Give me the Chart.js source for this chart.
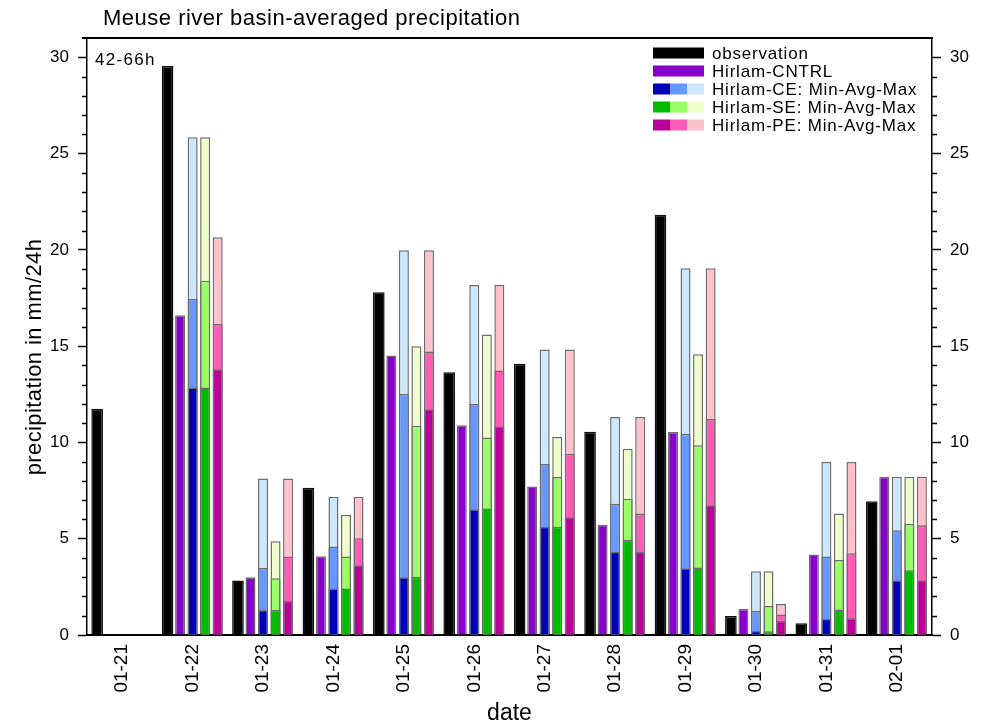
<!DOCTYPE html>
<html><head><meta charset="utf-8">
<script src="https://cdn.jsdelivr.net/npm/chart.js@4.4.1/dist/chart.umd.min.js"></script>
<style>html,body{margin:0;padding:0;background:#fff;}canvas{display:block;}</style>
</head><body>
<canvas id="c" width="984" height="727"></canvas>
<script>
// ---- data ----
const dates = ['01-21','01-22','01-23','01-24','01-25','01-26','01-27','01-28','01-29','01-30','01-31','02-01'];
const observation = [11.75, 29.55, 2.83, 7.64, 17.80, 13.64, 14.08, 10.56, 21.82, 0.99, 0.61, 6.95];
const cntrl = [null, 16.60, 3.00, 4.09, 14.51, 10.89, 7.71, 5.72, 10.54, 1.35, 4.18, 8.22];
const ceMin = [null, 12.85, 1.30, 2.41, 3.00, 6.53, 5.62, 4.32, 3.47, 0.22, 0.85, 2.84];
const ceAvg = [null, 17.45, 3.48, 4.59, 12.51, 12.00, 8.88, 6.81, 10.45, 1.25, 4.07, 5.44];
const ceMax = [null, 25.85, 8.13, 7.18, 19.98, 18.18, 14.82, 11.32, 19.05, 3.31, 8.98, 8.22];
const seMin = [null, 12.85, 1.30, 2.41, 3.03, 6.57, 5.62, 4.94, 3.50, 0.20, 1.32, 3.36];
const seAvg = [null, 18.40, 2.95, 4.07, 10.87, 10.26, 8.20, 7.07, 9.85, 1.51, 3.90, 5.77];
const seMax = [null, 25.85, 4.87, 6.24, 14.99, 15.60, 10.28, 9.67, 14.58, 3.31, 6.31, 8.22];
const peMin = [null, 13.80, 1.77, 3.62, 11.72, 10.83, 6.12, 4.32, 6.74, 0.73, 0.87, 2.84];
const peAvg = [null, 16.15, 4.07, 5.03, 14.72, 13.73, 9.41, 6.31, 11.22, 1.07, 4.25, 5.70];
const peMax = [null, 20.65, 8.13, 7.18, 19.98, 18.18, 14.82, 11.32, 19.05, 1.61, 8.98, 8.22];
const yMajorTicks = [0, 5, 10, 15, 20, 25, 30];
const legendLabels = ['observation', 'Hirlam-CNTRL', 'Hirlam-CE: Min-Avg-Max', 'Hirlam-SE: Min-Avg-Max', 'Hirlam-PE: Min-Avg-Max'];
const titleText = 'Meuse river basin-averaged precipitation';
const leadText = '42-66h';
const yTitle = 'precipitation in mm/24h';
const xTitle = 'date';

// ---- styles ----
const FONT = "'Liberation Sans', Arial, Helvetica, sans-serif";
const EDGE = '#6e6e6e';
const C = {
  obs: '#000000', cntrl: '#8800cc',
  ce: ['#0000bb', '#6699ff', '#cce8ff'],
  se: ['#00bb00', '#99ff66', '#eeffcc'],
  pe: ['#bb0099', '#ff5cb8', '#ffc2cc']
};
const legendSwatches = [[C.obs, C.obs, C.obs], [C.cntrl, C.cntrl, C.cntrl], C.ce, C.se, C.pe];

function bar(label, data, color, stack, border, pct) {
  return { label, data, backgroundColor: color, borderColor: border, borderWidth: 1.5,
    stack, barPercentage: pct, categoryPercentage: 0.89, borderSkipped: 'start' };
}
// within each stack, index order: min (drawn on top), avg, max (behind)
const datasets = [
  bar('observation', observation, C.obs, 'obs', '#111', 0.93),
  bar('Hirlam-CNTRL', cntrl, C.cntrl, 'cntrl', EDGE, 0.8),
  bar('CE min', ceMin, C.ce[0], 'ce', EDGE, 0.8),
  bar('CE avg', ceAvg, C.ce[1], 'ce', EDGE, 0.8),
  bar('CE max', ceMax, C.ce[2], 'ce', EDGE, 0.8),
  bar('SE min', seMin, C.se[0], 'se', EDGE, 0.8),
  bar('SE avg', seAvg, C.se[1], 'se', EDGE, 0.8),
  bar('SE max', seMax, C.se[2], 'se', EDGE, 0.8),
  bar('PE min', peMin, C.pe[0], 'pe', EDGE, 0.8),
  bar('PE avg', peAvg, C.pe[1], 'pe', EDGE, 0.8),
  bar('PE max', peMax, C.pe[2], 'pe', EDGE, 0.8)
];

const yAxis = (pos, width) => ({
  type: 'linear', position: pos, min: 0, max: 31, stacked: false,
  ticks: { stepSize: 1, autoSkip: false, color: '#000', padding: 9,
    font: { family: FONT, size: 17 },
    callback: v => yMajorTicks.includes(v) ? String(v) : '' },
  grid: { drawOnChartArea: false, tickLength: 9, tickWidth: 1.5,
    tickColor: ctx => (ctx.tick && yMajorTicks.includes(ctx.tick.value)) ? '#000' : 'rgba(0,0,0,0)' },
  border: { display: true, color: '#000', width: 1.5 },
  afterFit: s => { s.width = width; }
});

function spacedText(ctx, text, x, y, spacing) {
  ctx.letterSpacing = spacing + 'px';
  ctx.fillText(text, x, y);
  ctx.letterSpacing = '0px';
}

const decor = {
  id: 'decor',
  afterDraw(chart) {
    const ctx = chart.ctx, a = chart.chartArea;
    ctx.save();
    // minor ticks
    ctx.strokeStyle = '#000'; ctx.lineWidth = 1.5;
    for (const id of ['y', 'y2']) {
      const s = chart.scales[id];
      for (let v = 0; v <= 30; v++) {
        if (yMajorTicks.includes(v)) continue;
        const py = Math.round(s.getPixelForValue(v)) + 0.5;
        ctx.beginPath();
        if (id === 'y') { ctx.moveTo(a.left - 5, py); ctx.lineTo(a.left, py); }
        else { ctx.moveTo(a.right, py); ctx.lineTo(a.right + 5, py); }
        ctx.stroke();
      }
    }
    // top frame line
    ctx.lineWidth = 2;
    ctx.beginPath(); ctx.moveTo(a.left - 5, a.top); ctx.lineTo(a.right + 1, a.top); ctx.stroke();
    // texts
    ctx.fillStyle = '#000';
    ctx.textBaseline = 'middle'; ctx.textAlign = 'left';
    ctx.font = '22px ' + FONT;
    spacedText(ctx, titleText, 103, 19, 0.5);
    ctx.font = '17px ' + FONT;
    spacedText(ctx, leadText, a.left + 8, a.top + 22, 1.3);
    // y title
    ctx.save();
    ctx.translate(35, 357); ctx.rotate(-Math.PI / 2);
    ctx.textAlign = 'center'; ctx.font = '22px ' + FONT;
    spacedText(ctx, yTitle, 0, 0, 0.4);
    ctx.restore();
    // legend
    const lx = 653, sw = 17, sh = 11;
    const rows = [53, 71, 89, 107, 125];
    ctx.font = '17px ' + FONT; ctx.textAlign = 'left';
    legendLabels.forEach((lab, i) => {
      const cy = rows[i];
      legendSwatches[i].forEach((col, k) => {
        ctx.fillStyle = col;
        ctx.fillRect(lx + k * sw, cy - sh / 2, sw, sh);
      });
      ctx.fillStyle = '#000';
      spacedText(ctx, lab, lx + 3 * sw + 8, cy + 1, 0.8);
    });
    ctx.restore();
  }
};

new Chart(document.getElementById('c'), {
  type: 'bar',
  data: { labels: dates, datasets },
  options: {
    responsive: false, animation: false, devicePixelRatio: 1,
    layout: { padding: { top: 38, left: 0, right: 0, bottom: 0 } },
    plugins: { legend: { display: false }, tooltip: { enabled: false }, title: { display: false } },
    scales: {
      x: {
        type: 'category', stacked: true, offset: true,
        grid: { display: false, drawTicks: false },
        border: { display: true, color: '#000', width: 2 },
        ticks: { autoSkip: false, minRotation: 90, maxRotation: 90, padding: 9, color: '#000',
          font: { family: FONT, size: 19 } },
        title: { display: true, text: xTitle, color: '#000', font: { family: FONT, size: 23 },
          padding: { top: 0, bottom: 0 } },
        afterFit: s => { s.height = 92; }
      },
      y: yAxis('left', 87),
      y2: yAxis('right', 52)
    }
  },
  plugins: [decor]
});
</script>
</body></html>
